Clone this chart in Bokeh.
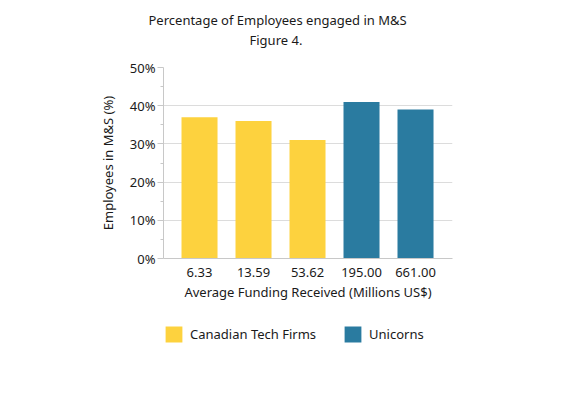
from bokeh.plotting import figure
from bokeh.layouts import column
from bokeh.models import (ColumnDataSource, Range1d, Legend, LegendItem,
                          Title, FixedTicker, CustomJSTickFormatter)
from bokeh.embed import file_html
from bokeh.resources import INLINE

categories = ["6.33", "13.59", "53.62", "195.00", "661.00"]
values = [37, 36, 31, 41, 39]
groups = ["Canadian Tech Firms", "Canadian Tech Firms", "Canadian Tech Firms", "Unicorns", "Unicorns"]
group_names = ["Canadian Tech Firms", "Unicorns"]
group_colors = {"Canadian Tech Firms": "#FDD23E", "Unicorns": "#2A7BA0"}
y_ticks = [0, 10, 20, 30, 40, 50]
y_minor_ticks = [5, 15, 25, 35, 45]

FONT = "Noto Sans"
TXT = "#1a1a1a"

positions = list(range(len(categories)))

p = figure(width=571, height=310, x_range=Range1d(-0.667, len(categories) - 1 + 0.685),
           y_range=Range1d(0, 50),
           output_backend="svg", toolbar_location=None,
           min_border_left=163, min_border_right=119, min_border_top=67, min_border_bottom=52)
p.outline_line_color = None
p.background_fill_color = "white"

renderers = {}
for g in group_names:
    idx = [i for i, gg in enumerate(groups) if gg == g]
    s = ColumnDataSource(dict(x=[positions[i] for i in idx], top=[values[i] for i in idx]))
    renderers[g] = p.vbar(x="x", top="top", width=0.667, source=s, color=group_colors[g], line_color=None)

# axes
p.xgrid.grid_line_color = None
p.ygrid.grid_line_color = "#dcdcdc"
p.ygrid.grid_line_width = 1

p.yaxis.ticker = FixedTicker(ticks=y_ticks, minor_ticks=y_minor_ticks)
p.yaxis.formatter = CustomJSTickFormatter(code="return tick + '%';")
p.yaxis.axis_line_color = "#c8c8c8"
p.yaxis.major_tick_line_color = "#c8c8c8"
p.yaxis.minor_tick_line_color = "#c8c8c8"
p.yaxis.major_tick_out = 6
p.yaxis.major_tick_in = 0
p.yaxis.minor_tick_out = 3
p.yaxis.minor_tick_in = 0
p.yaxis.major_label_standoff = 2
p.yaxis.axis_label = "Employees in M&S (%)"
p.yaxis.axis_label_standoff = 10

p.xaxis.ticker = FixedTicker(ticks=positions)
p.xaxis.major_label_overrides = {i: c for i, c in zip(positions, categories)}
p.xaxis.axis_line_color = "#c8c8c8"
p.xaxis.major_tick_line_color = None
p.xaxis.minor_tick_line_color = None
p.xaxis.major_tick_out = 0
p.xaxis.major_tick_in = 0
p.xaxis.major_label_standoff = 9
p.xaxis.axis_label = "Average Funding Received (Millions US$)"
p.xaxis.axis_label_standoff = 3

for ax in (p.xaxis, p.yaxis):
    ax.major_label_text_font = FONT
    ax.major_label_text_font_size = "13px"
    ax.major_label_text_color = TXT
    ax.axis_label_text_font = FONT
    ax.axis_label_text_font_size = "13px"
    ax.axis_label_text_font_style = "normal"
    ax.axis_label_text_color = TXT

# titles (spacer first, so it sits closest to the plot frame)
spacer = Title(text=" ", align="left", text_font=FONT, text_font_size="12px", standoff=0)
t2 = Title(text="Figure 4.", align="left", offset=86, text_font=FONT, text_font_size="13px",
           text_font_style="normal", text_color=TXT, standoff=0)
t1 = Title(text="Percentage of Employees engaged in M&S", align="left", offset=-15, text_font=FONT,
           text_font_size="13px", text_font_style="normal", text_color=TXT, standoff=0)
p.add_layout(spacer, "above")
p.add_layout(t2, "above")
p.add_layout(t1, "above")

# legend strip (separate figure below the chart)
p2 = figure(width=571, height=89, x_range=Range1d(0, 1), y_range=Range1d(0, 1),
            output_backend="svg", toolbar_location=None,
            x_axis_location=None, y_axis_location=None,
            min_border_left=0, min_border_right=0, min_border_top=0, min_border_bottom=0)
p2.outline_line_color = None
p2.grid.grid_line_color = None
leg_renderers = {}
for g in group_names:
    leg_renderers[g] = p2.vbar(x=[-10], top=[0], width=1, color=group_colors[g], line_color=None)

legend = Legend(items=[LegendItem(label=g, renderers=[leg_renderers[g]]) for g in group_names],
                orientation="horizontal", location=(0, 55),
                glyph_width=21, glyph_height=20, label_standoff=6, spacing=26,
                padding=0, margin=0, border_line_color=None, background_fill_alpha=0,
                label_text_font=FONT, label_text_font_size="13px", label_text_color=TXT)
p2.add_layout(legend, "center")

layout = column(p, p2, spacing=0)
open("out.html", "w").write(file_html(layout, INLINE))
